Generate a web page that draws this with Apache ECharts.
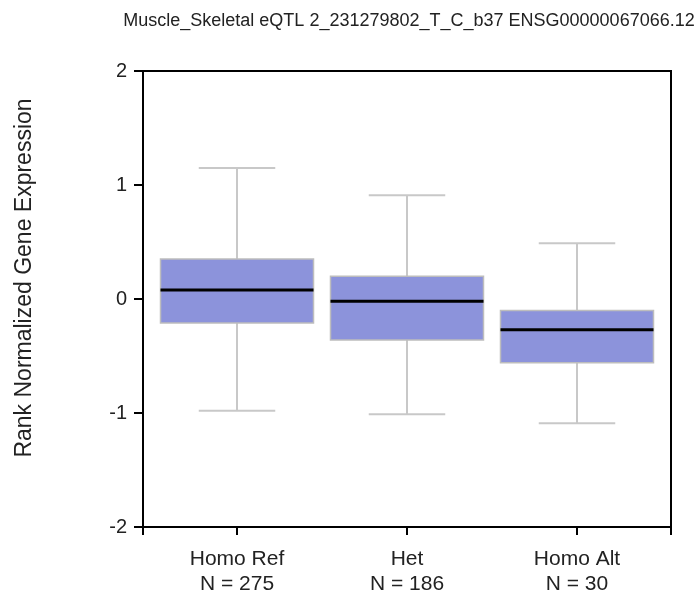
<!DOCTYPE html>
<html>
<head>
<meta charset="utf-8">
<script src="https://cdn.jsdelivr.net/npm/echarts@6/dist/echarts.min.js"></script>
<style>
  html, body { margin: 0; padding: 0; background: #fff; }
  #chart { width: 700px; height: 601px; }
</style>
</head>
<body>
<div id="chart"></div>
<script>
const groups = ['Homo Ref', 'Het', 'Homo Alt'];
const counts = [275, 186, 30];
const whiskerHigh = [1.15, 0.91, 0.49];
const q3 = [0.35, 0.20, -0.10];
const median = [0.08, -0.02, -0.27];
const q1 = [-0.21, -0.36, -0.56];
const whiskerLow = [-0.98, -1.01, -1.09];
const yTicks = [-2, -1, 0, 1, 2];

const fontFamily = '"Liberation Sans", Arial, sans-serif';
const boxWidth = 0.9;

const boxData = groups.map(function (g, i) {
  return [i, whiskerLow[i], q1[i], median[i], q3[i], whiskerHigh[i]];
});

function renderBox(params, api) {
  const x = api.value(0);
  const lo = api.coord([x, api.value(1)]);
  const bq1 = api.coord([x, api.value(2)]);
  const med = api.coord([x, api.value(3)]);
  const bq3 = api.coord([x, api.value(4)]);
  const hi = api.coord([x, api.value(5)]);
  const half = api.size([boxWidth, 0])[0] / 2;
  const cap = half / 2;
  const whisker = { stroke: '#c8c8c8', lineWidth: 2 };
  return {
    type: 'group',
    children: [
      { type: 'line', shape: { x1: hi[0], y1: hi[1], x2: bq3[0], y2: bq3[1] }, style: whisker },
      { type: 'line', shape: { x1: lo[0], y1: lo[1], x2: bq1[0], y2: bq1[1] }, style: whisker },
      { type: 'line', shape: { x1: hi[0] - cap, y1: hi[1], x2: hi[0] + cap, y2: hi[1] }, style: whisker },
      { type: 'line', shape: { x1: lo[0] - cap, y1: lo[1], x2: lo[0] + cap, y2: lo[1] }, style: whisker },
      {
        type: 'rect',
        shape: { x: bq3[0] - half, y: bq3[1], width: half * 2, height: bq1[1] - bq3[1] },
        style: { fill: '#8c93db', stroke: '#bdbdbd', lineWidth: 1.5 }
      },
      { type: 'line', shape: { x1: med[0] - half, y1: med[1], x2: med[0] + half, y2: med[1] }, style: { stroke: '#000', lineWidth: 3 } }
    ]
  };
}

const chart = echarts.init(document.getElementById('chart'));

chart.setOption({
  animation: false,
  backgroundColor: '#fff',
  title: {
    text: 'Muscle_Skeletal eQTL 2_231279802_T_C_b37 ENSG00000067066.12',
    left: 404,
    top: 7,
    textAlign: 'center',
    textStyle: { fontFamily: fontFamily, fontSize: 18, fontWeight: 'normal', color: '#222' }
  },
  graphic: [{
    type: 'text',
    x: 25,
    y: 278,
    rotation: Math.PI / 2,
    style: {
      text: 'Rank Normalized Gene Expression',
      fontFamily: fontFamily,
      fontSize: 23,
      fill: '#222',
      align: 'center',
      verticalAlign: 'middle'
    }
  }],
  grid: {
    left: 143,
    right: 29,
    top: 71,
    bottom: 74,
    show: true,
    borderColor: '#000',
    borderWidth: 2
  },
  xAxis: {
    type: 'value',
    min: -0.553,
    max: 2.553,
    splitLine: { show: false },
    axisLine: { show: true, onZero: false, lineStyle: { color: '#000', width: 2 } },
    axisTick: {
      show: true,
      length: 8,
      customValues: [-0.553, 0, 1, 2, 2.553],
      lineStyle: { color: '#000', width: 2 }
    },
    axisLabel: {
      customValues: [0, 1, 2],
      margin: 20,
      fontFamily: fontFamily,
      fontSize: 21,
      lineHeight: 25,
      color: '#222',
      formatter: function (v) {
        const i = Math.round(v);
        return groups[i] + '\nN = ' + counts[i];
      }
    }
  },
  yAxis: {
    type: 'value',
    min: -2,
    max: 2,
    interval: 1,
    splitLine: { show: false },
    axisLine: { show: true, onZero: false, lineStyle: { color: '#000', width: 2 } },
    axisTick: { show: true, length: 9, lineStyle: { color: '#000', width: 2 } },
    axisLabel: {
      margin: 16,
      fontFamily: fontFamily,
      fontSize: 20,
      color: '#222',
      customValues: yTicks
    }
  },
  series: [{
    type: 'custom',
    renderItem: renderBox,
    encode: { x: 0, y: [1, 2, 3, 4, 5] },
    data: boxData,
    clip: false
  }]
});
</script>
</body>
</html>
